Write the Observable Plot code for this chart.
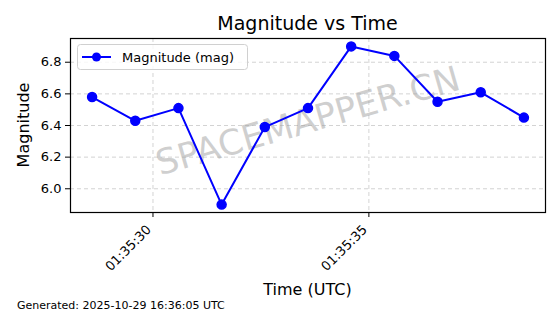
<!DOCTYPE html>
<html><head><meta charset="utf-8">
<script src="https://cdn.jsdelivr.net/npm/d3@7"></script>
<script src="https://cdn.jsdelivr.net/npm/@observablehq/plot@0.6"></script>
<style>
html,body{margin:0;padding:0;background:#fff;}
svg{font-family:"DejaVu Sans",sans-serif;}
</style></head>
<body><div id="chart"></div>
<script>
const times = ["2025-10-29T01:35:28.59Z","2025-10-29T01:35:29.59Z","2025-10-29T01:35:30.59Z","2025-10-29T01:35:31.59Z","2025-10-29T01:35:32.59Z","2025-10-29T01:35:33.59Z","2025-10-29T01:35:34.59Z","2025-10-29T01:35:35.59Z","2025-10-29T01:35:36.59Z","2025-10-29T01:35:37.59Z","2025-10-29T01:35:38.59Z"];
const magnitudes = [6.58, 6.43, 6.51, 5.90, 6.39, 6.51, 6.90, 6.84, 6.55, 6.61, 6.45];
const xTicks = ["2025-10-29T01:35:30Z","2025-10-29T01:35:35Z"];
const yTicks = [6.0, 6.2, 6.4, 6.6, 6.8];
const seriesName = "Magnitude (mag)";

const data = times.map((t,i)=>({t:new Date(t), m:magnitudes[i]}));
const xt = xTicks.map(t=>new Date(t));
const fmt = d3.utcFormat("%H:%M:%S");
const blue = "#0000ff";

const plot = Plot.plot({
  width:560, height:314,
  marginLeft:70, marginRight:15, marginTop:38, marginBottom:102,
  style:{fontFamily:"DejaVu Sans, sans-serif", fontSize:"13px", color:"#000", background:"#fff"},
  x:{type:"utc", domain:[new Date("2025-10-29T01:35:28.09Z"), new Date("2025-10-29T01:35:39.09Z")]},
  y:{domain:[5.85,6.95]},
  marks:[
    Plot.gridX(xt,{stroke:"#b0b0b0", strokeOpacity:0.7, strokeDasharray:"4,3", strokeWidth:0.8}),
    Plot.gridY(yTicks,{stroke:"#b0b0b0", strokeOpacity:0.7, strokeDasharray:"4,3", strokeWidth:0.8}),
    Plot.text(["SPACEMAPPER.CN"],{frameAnchor:"middle", dx:0, dy:-4, rotate:-16, fontSize:35, fill:"#a0a0a0", fillOpacity:0.5}),
    Plot.line(data,{x:"t", y:"m", stroke:blue, strokeWidth:2}),
    Plot.dot(data,{x:"t", y:"m", r:4.5, fill:blue, stroke:blue}),
    Plot.frame({stroke:"#000", strokeWidth:1.2}),
    Plot.axisY({ticks:yTicks, tickFormat:d=>d.toFixed(1), tickSize:5, tickPadding:4, fontSize:13, label:null}),
    Plot.axisX({ticks:xt, tickFormat:fmt, tickSize:5, tickRotate:-45, tickPadding:4, fontSize:13, label:null}),
  ]
});
document.getElementById("chart").appendChild(plot);

const svg = d3.select(plot);
// nudge rotated x tick labels down-left so their top-right corner sits at the tick
svg.selectAll("g[aria-label='x-axis tick label']").each(function(){
  const tr = this.getAttribute("transform") || "";
  this.setAttribute("transform", "translate(-4,6) " + tr);
});
svg.append("text").attr("x",307.5).attr("y",30).attr("text-anchor","middle")
  .attr("font-size",19).attr("fill","#000").text("Magnitude vs Time");
svg.append("text").attr("transform","translate(29,125) rotate(-90)").attr("text-anchor","middle")
  .attr("font-size",16).attr("fill","#000").text("Magnitude");
svg.append("text").attr("x",307.5).attr("y",295).attr("text-anchor","middle")
  .attr("font-size",16).attr("fill","#000").text("Time (UTC)");
svg.append("text").attr("x",17).attr("y",309).attr("text-anchor","start")
  .attr("font-size",11).attr("fill","#000").text("Generated: 2025-10-29 16:36:05 UTC");

const lg = svg.append("g");
lg.append("rect").attr("x",77.5).attr("y",44.5).attr("width",170).attr("height",25).attr("rx",3)
  .attr("fill","#fff").attr("fill-opacity",0.8).attr("stroke","#d0d0d0");
lg.append("line").attr("x1",82).attr("x2",111).attr("y1",57).attr("y2",57).attr("stroke",blue).attr("stroke-width",2);
lg.append("circle").attr("cx",96.5).attr("cy",57).attr("r",4.5).attr("fill",blue);
lg.append("text").attr("x",122).attr("y",62).attr("text-anchor","start")
  .attr("font-size",13).attr("fill","#000").text(seriesName);
</script></body></html>
